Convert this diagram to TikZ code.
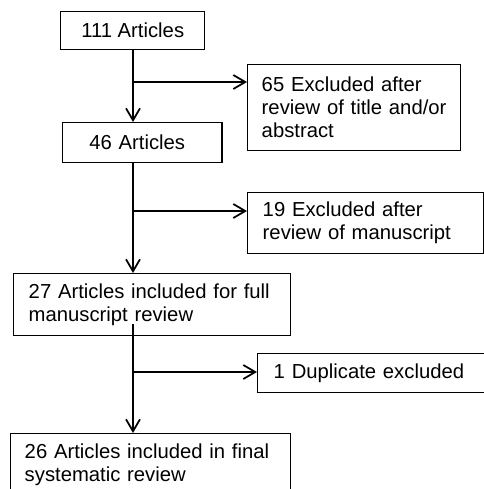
\documentclass[tikz,border=0pt]{standalone}
\usepackage{fontspec}
\setmainfont{Liberation Sans}
\usetikzlibrary{arrows.meta}
\begin{document}
\begin{tikzpicture}[x=0.75pt,y=-0.75pt,
    font=\fontsize{15.2}{17.25}\selectfont,
    box/.style={draw,line width=1.1pt,rectangle,anchor=north west,inner sep=0pt},
    leftbox/.style={box,align=left,inner xsep=#1},
    flow/.style={line width=1.3pt,-{Straight Barb[length=9pt,width=10.5pt,line width=1.3pt]}}]
  \clip (0,0) rectangle (484,489);
  % boxes
  \node[box,minimum width=144*0.75pt,minimum height=38*0.75pt] (n111) at (60,11) {111 Articles};
  \node[leftbox=10.5pt,text width=185*0.75pt,minimum height=86*0.75pt] (n65) at (247,64) {65 Excluded after\\review of title and/or\\abstract};
  \node[leftbox=20pt,text width=106*0.75pt,minimum height=40*0.75pt] (n46) at (62,122) {46 Articles};
  \node[leftbox=11.25pt,text width=206*0.75pt,minimum height=61*0.75pt] (n19) at (247,192) {19 Excluded after\\review of manuscript};
  \node[leftbox=11.25pt,text width=247*0.75pt,minimum height=62*0.75pt] (n27) at (13,273) {27 Articles included for full\\manuscript review};
  \node[leftbox=12pt,text width=203*0.75pt,minimum height=39*0.75pt] (n1) at (257,353) {1 Duplicate excluded};
  \node[leftbox=10.5pt,text width=252*0.75pt,minimum height=63*0.75pt] (n26) at (10,433) {26 Articles included in final\\systematic review};
  % connectors
  \coordinate (b1) at (133,82);
  \coordinate (b2) at (133,211);
  \coordinate (b3) at (133,372);
  \coordinate (s3) at (133,324);
  \draw[flow] (b1 |- n111.south) -- (b1 |- n46.north);
  \draw[flow] (b1) -- (b1 -| n65.west);
  \draw[flow] (b2 |- n46.south) -- (b2 |- n27.north);
  \draw[flow] (b2) -- (b2 -| n19.west);
  \draw[flow] (s3) -- (b3 |- n26.north);
  \draw[flow] (b3) -- (b3 -| n1.west);
\end{tikzpicture}
\end{document}
